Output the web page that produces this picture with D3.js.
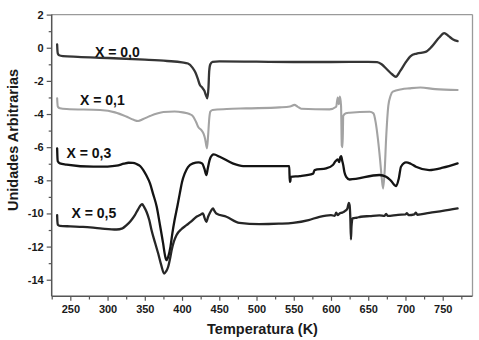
<!DOCTYPE html>
<html>
<head>
<meta charset="utf-8">
<script src="https://cdn.jsdelivr.net/npm/d3@7"></script>
<style>
html, body { margin: 0; padding: 0; background: #fff; }
svg { display: block; }
text { font-family: "Liberation Sans", Arial, sans-serif; font-weight: bold; }
</style>
</head>
<body>
<svg id="chart" width="479" height="340"></svg>
<script>
// ---- data (Temperature K, arbitrary units) ----
const serieX00 = [[232.3,0.2],[232.6,-0.1],[233.2,-0.35],[235,-0.45],[240,-0.5],[260,-0.55],[300,-0.62],[350,-0.72],[380,-0.8],[400,-0.88],[408,-0.95],[414,-1.2],[418,-1.5],[421,-1.85],[424,-2.25],[427,-2.4],[430,-2.6],[432,-2.85],[434,-3.05],[435.5,-2.4],[436.5,-1.4],[438,-1.0],[441,-0.85],[450,-0.82],[500,-0.84],[550,-0.86],[600,-0.86],[650,-0.85],[662,-0.87],[668,-1.0],[675,-1.3],[682,-1.6],[687,-1.75],[693,-1.4],[700,-0.9],[707,-0.5],[715,-0.35],[727,-0.25],[735,0.05],[745,0.6],[752,0.88],[758,0.7],[764,0.5],[770,0.4]];
const serieX01 = [[232.3,-3.05],[232.6,-3.3],[233.2,-3.55],[236,-3.65],[245,-3.7],[290,-3.76],[310,-3.9],[325,-4.15],[335,-4.35],[341,-4.42],[348,-4.3],[357,-4.12],[375,-3.88],[390,-3.85],[401,-3.9],[410,-4.0],[415,-4.15],[419,-4.5],[422,-4.8],[426,-4.97],[429,-5.2],[431,-5.5],[433.5,-6.07],[435,-5.3],[436.5,-4.3],[438,-3.86],[441,-3.76],[460,-3.7],[486,-3.66],[531,-3.6],[545,-3.55],[551,-3.45],[555,-3.55],[560,-3.68],[598,-3.72],[607,-3.56],[609,-3.0],[610.5,-3.4],[612,-2.95],[613.5,-3.5],[614.5,-5.9],[615.5,-6.0],[616.5,-4.1],[620,-3.95],[625,-3.92],[652,-3.86],[657,-3.96],[660,-4.5],[663,-5.5],[666,-6.8],[668,-7.8],[670,-8.5],[672,-7.5],[674,-5.5],[677,-3.5],[680,-2.9],[683,-2.65],[695,-2.5],[705,-2.45],[720,-2.4],[740,-2.5],[770,-2.55]];
const serieX03 = [[232.3,-6.07],[232.6,-6.5],[233.2,-6.85],[236,-6.98],[245,-7.05],[281,-7.18],[300,-7.17],[312,-7.12],[322,-7.0],[328,-6.94],[334,-6.95],[339,-7.02],[344,-7.15],[348,-7.38],[352,-7.7],[357,-8.19],[361,-8.8],[366,-9.6],[370,-10.6],[374.6,-11.81],[377,-12.5],[379,-12.82],[381.5,-12.6],[384.5,-12.0],[387,-11.2],[390,-10.4],[394,-9.5],[397,-8.79],[400,-8.1],[403.7,-7.58],[408,-7.2],[414.8,-6.98],[422,-6.92],[427,-6.98],[430,-7.3],[432.7,-7.68],[434.5,-7.3],[437,-6.78],[440,-6.5],[442.6,-6.44],[450.6,-6.58],[468,-6.98],[482,-7.14],[544,-7.14],[544.6,-8.1],[545.4,-8.05],[546,-7.79],[558,-7.75],[576,-7.6],[578,-7.38],[593.6,-7.28],[602.5,-7.08],[606,-6.85],[609,-6.74],[611,-6.9],[612.5,-6.6],[613.7,-6.54],[615,-6.8],[616.5,-7.1],[618,-7.5],[620.4,-7.79],[625,-7.95],[665,-7.68],[674,-7.79],[680,-8.0],[687.5,-8.35],[691,-7.9],[694,-7.18],[700.8,-6.92],[707,-7.0],[714,-7.18],[732,-7.38],[750,-7.24],[770,-6.98]];
const serieX05 = [[232.3,-10.1],[232.6,-10.45],[233.2,-10.68],[236,-10.75],[250,-10.78],[267,-10.81],[290,-10.9],[312,-10.97],[320,-10.9],[325.5,-10.71],[331,-10.45],[336.7,-10.1],[341,-9.75],[346.5,-9.44],[349,-9.6],[352.3,-9.9],[356,-10.4],[359,-11.0],[364,-11.8],[368,-12.42],[372,-13.1],[376,-13.63],[378.5,-13.5],[381.3,-13.23],[384,-12.7],[386,-12.22],[389,-11.7],[392.5,-11.31],[399,-10.95],[406,-10.71],[412,-10.5],[419.4,-10.2],[424,-10.1],[428,-10.0],[430.5,-10.3],[432.7,-10.5],[435,-10.2],[437,-10.0],[439.5,-9.8],[441.6,-9.7],[443.5,-9.85],[446,-10.0],[459.6,-10.2],[477,-10.57],[504,-10.65],[530,-10.62],[549,-10.57],[570,-10.4],[584.6,-10.2],[600,-10.1],[605,-10.15],[607,-9.95],[609,-10.1],[611.5,-10.0],[615,-9.95],[619,-9.85],[622,-9.7],[624,-9.36],[625,-9.5],[626,-10.3],[626.8,-11.57],[627.5,-10.8],[629,-10.3],[635,-10.25],[640,-10.2],[652,-10.16],[665,-10.12],[672,-10.15],[674,-10.02],[676,-10.15],[690,-10.08],[700,-10.06],[702,-9.98],[704,-10.1],[712,-10.05],[714,-9.95],[716,-10.08],[732,-9.96],[750,-9.85],[770,-9.7]];

const seriesNames = ["X = 0,0", "X = 0,1", "X = 0,3", "X = 0,5"];
const seriesData = [serieX00, serieX01, serieX03, serieX05];
const seriesColors = ["#353535", "#a3a3a3", "#141414", "#262626"];
const labelAnchors = [[95, 56.5], [80, 105], [66.5, 158], [71.5, 218]]; // label positions (px)

const xTicks = [250, 300, 350, 400, 450, 500, 550, 600, 650, 700, 750];
const xMinorTicks = [225, 275, 325, 375, 425, 475, 525, 575, 625, 675, 725, 775];
const yTicks = [2, 0, -2, -4, -6, -8, -10, -12, -14];
const yMinorTicks = [1, -1, -3, -5, -7, -9, -11, -13];
const xTitle = "Temperatura (K)";
const yTitle = "Unidades Arbitrarias";

// ---- layout ----
const svg = d3.select("#chart");
const L = 51.7, R = 472.5, T = 14.6, B = 296.3;
const x = d3.scaleLinear().domain([225, 790]).range([L, R]);
const y = d3.scaleLinear().domain([-15, 2]).range([B, T]);

// frame (top/right lighter)
svg.append("line").attr("x1", L).attr("x2", R).attr("y1", T).attr("y2", T)
  .attr("stroke", "#9a9a9a").attr("stroke-width", 1.3);
svg.append("line").attr("x1", R).attr("x2", R).attr("y1", T).attr("y2", B)
  .attr("stroke", "#9a9a9a").attr("stroke-width", 1.3);

// x axis
const gx = svg.append("g").attr("transform", `translate(0,${B})`);
gx.call(d3.axisBottom(x).tickValues(xTicks).tickSize(4.5).tickPadding(4).tickFormat(d => String(d)));
gx.append("g").call(d3.axisBottom(x).tickValues(xMinorTicks).tickSize(3.2).tickFormat(""));
gx.selectAll(".domain").remove();
gx.append("line").attr("x1", L).attr("x2", R).attr("stroke", "#555").attr("stroke-width", 1.5);
gx.selectAll(".tick line").attr("stroke", "#555").attr("stroke-width", 1.2);
gx.selectAll(".tick text").attr("font-size", 11).attr("fill", "#1a1a1a")
  .attr("font-family", "'Liberation Sans', Arial, sans-serif").attr("font-weight", "bold");

// y axis
const gy = svg.append("g").attr("transform", `translate(${L},0)`);
gy.call(d3.axisLeft(y).tickValues(yTicks).tickSize(5).tickPadding(3).tickFormat(d => String(d)));
gy.append("g").call(d3.axisLeft(y).tickValues(yMinorTicks).tickSize(3).tickFormat(""));
gy.selectAll(".domain").remove();
gy.append("line").attr("y1", T).attr("y2", B).attr("stroke", "#555").attr("stroke-width", 1.5);
gy.selectAll(".tick line").attr("stroke", "#555").attr("stroke-width", 1.2);
gy.selectAll(".tick text").attr("font-size", 11).attr("fill", "#1a1a1a")
  .attr("font-family", "'Liberation Sans', Arial, sans-serif").attr("font-weight", "bold");

// titles
svg.append("text").attr("x", 262.5).attr("y", 333.5).attr("text-anchor", "middle")
  .attr("font-size", 14.5).attr("fill", "#1a1a1a").text(xTitle);
svg.append("text").attr("transform", "translate(17.5,140) rotate(-90)").attr("text-anchor", "middle")
  .attr("font-size", 14.5).attr("fill", "#1a1a1a").text(yTitle);

// curves
const line = d3.line().x(d => x(d[0])).y(d => y(d[1])).curve(d3.curveMonotoneX);
seriesData.forEach((s, i) => {
  svg.append("path").datum(s).attr("d", line)
    .attr("fill", "none").attr("stroke", seriesColors[i])
    .attr("stroke-width", i === 1 ? 2.1 : 2.3)
    .attr("stroke-linejoin", "round").attr("stroke-linecap", "round");
});

// series labels
seriesNames.forEach((n, i) => {
  svg.append("text").attr("x", labelAnchors[i][0]).attr("y", labelAnchors[i][1])
    .attr("font-size", 14).attr("fill", "#111").text(n);
});
</script>
</body>
</html>
